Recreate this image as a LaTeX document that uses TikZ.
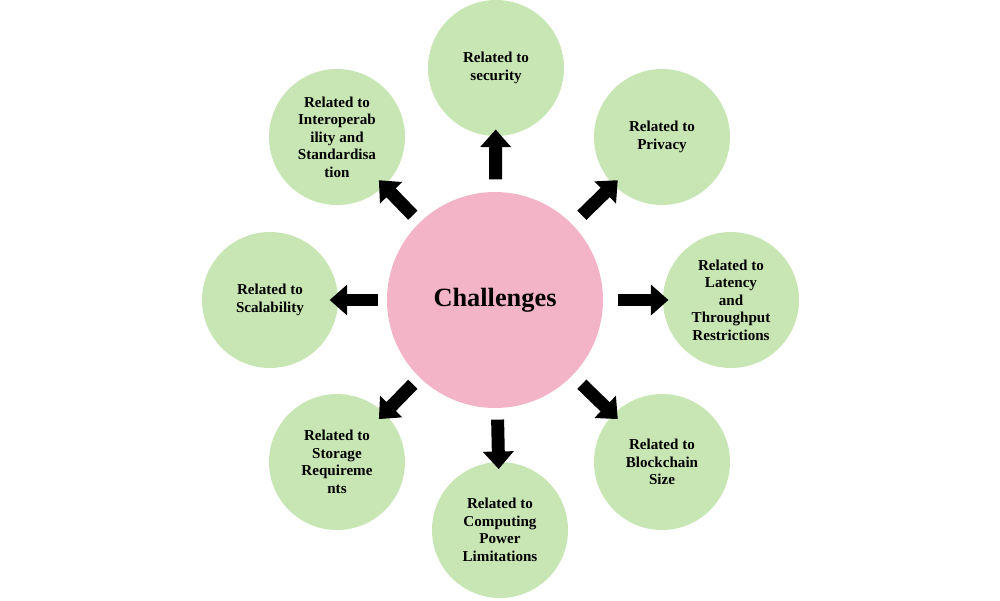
\documentclass[tikz,border=0pt]{standalone}
\usepackage{fontspec}
\setmainfont{Liberation Serif}
\usetikzlibrary{arrows.meta,calc}
\definecolor{gr}{HTML}{C8E6B4}
\definecolor{pk}{HTML}{F4B4C8}
\begin{document}
\begin{tikzpicture}[x=0.02cm,y=-0.02cm,
  outer/.style={circle,fill=gr,minimum size=136*0.02cm,inner sep=0pt,align=center,font=\bfseries\fontsize{8.6}{10}\selectfont},
  arr/.style={line width=13*0.567pt,-{Triangle[length=10pt,width=17pt]}}]
\useasboundingbox (0,0) rectangle (1000,600);
\node[circle,fill=pk,minimum size=216*0.02cm,font=\bfseries\fontsize{15}{18}\selectfont] (c) at (495,300) {Challenges};
\node[outer] (n1) at (496,68) {Related to\\security};
\node[outer] (n2) at (662,137) {Related to\\Privacy};
\node[outer] (n3) at (731,300) {Related to\\Latency\\and\\Throughput\\Restrictions};
\node[outer] (n4) at (662,462) {Related to\\Blockchain\\Size};
\node[outer] (n5) at (500,530) {Related to\\Computing\\Power\\Limitations};
\node[outer] (n6) at (337,462) {Related to\\Storage\\Requireme\\nts};
\node[outer] (n7) at (270,300) {Related to\\Scalability};
\node[outer] (n8) at (337,137) {Related to\\Interoperab\\ility and\\Standardisa\\tion};
\foreach \n in {n1,n2,n3,n4,n5,n6,n7,n8}{
  \path (c.center) -- (\n.center) coordinate[pos=0.52] (a) coordinate[pos=0.735] (b);
  \coordinate (a\n) at (a); \coordinate (b\n) at (b);
  \draw[arr] (a\n) -- (b\n);
}
\end{tikzpicture}
\end{document}
